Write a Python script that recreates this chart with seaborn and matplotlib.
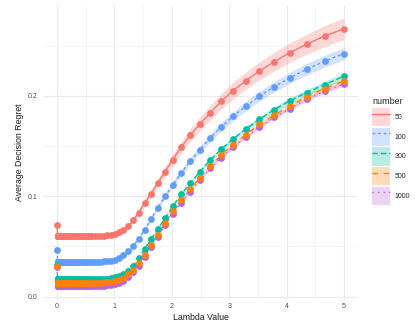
import matplotlib
matplotlib.use("Agg")
import matplotlib.pyplot as plt
import numpy as np
import pandas as pd
import seaborn as sns
from matplotlib.patches import Patch
from matplotlib.lines import Line2D
from matplotlib.legend_handler import HandlerTuple
from matplotlib.ticker import FixedLocator

# ---------------- data ----------------
lambda_values = [
    0.0, 0.0100, 0.0107, 0.0115, 0.0123, 0.0132, 0.0142, 0.0152, 0.0163, 0.0175,
    0.0188, 0.0201, 0.0216, 0.0231, 0.0248, 0.0266, 0.0285, 0.0306, 0.0328, 0.0351,
    0.0377, 0.0404, 0.0433, 0.0465, 0.0498, 0.0534, 0.0573, 0.0614, 0.0659, 0.0706,
    0.0757, 0.0812, 0.0871, 0.0934, 0.1002, 0.1074, 0.1152, 0.1235, 0.1324, 0.1420,
    0.1523, 0.1633, 0.1751, 0.1878, 0.2014, 0.2159, 0.2315, 0.2483, 0.2662, 0.2855,
    0.3061, 0.3283, 0.3520, 0.3775, 0.4048, 0.4341, 0.4655, 0.4991, 0.5352, 0.5739,
    0.6154, 0.6599, 0.7077,
    0.7588, 0.8137, 0.8726, 0.9357, 1.0033, 1.0759, 1.1537, 1.2372, 1.3267, 1.4226,
    1.5255, 1.6359, 1.7542, 1.8810, 2.0171, 2.1630, 2.3194, 2.4872, 2.6671, 2.8600,
    3.0668, 3.2886, 3.5265, 3.7815, 4.0550, 4.3483, 4.6628, 5.0000,
]

regret_50 = [
    0.0710,
    0.0604, 0.0604, 0.0604, 0.0604, 0.0604, 0.0604, 0.0604, 0.0604, 0.0604, 0.0604,
    0.0604, 0.0604, 0.0604, 0.0604, 0.0604, 0.0604, 0.0604, 0.0604, 0.0604, 0.0604,
    0.0604, 0.0604, 0.0604, 0.0604, 0.0604, 0.0604, 0.0604, 0.0604, 0.0604, 0.0604,
    0.0604, 0.0604, 0.0604, 0.0604, 0.0604, 0.0604, 0.0604, 0.0604, 0.0604, 0.0604,
    0.0604, 0.0604, 0.0604, 0.0604, 0.0604, 0.0604, 0.0604, 0.0604, 0.0604, 0.0604,
    0.0604, 0.0604, 0.0604, 0.0604, 0.0604, 0.0604, 0.0604, 0.0604, 0.0604, 0.0604,
    0.0604, 0.0604,
    0.0605, 0.0607, 0.0611, 0.0617, 0.0627, 0.0641, 0.0662, 0.0700, 0.0760, 0.0838,
    0.0932, 0.1025, 0.1130, 0.1245, 0.1365, 0.1488, 0.1608, 0.1718, 0.1830, 0.1945,
    0.2052, 0.2150, 0.2248, 0.2338, 0.2430, 0.2514, 0.2596, 0.2668,
]

regret_100 = [
    0.0461,
    0.0348, 0.0348, 0.0348, 0.0348, 0.0348, 0.0348, 0.0348, 0.0348, 0.0348, 0.0348,
    0.0348, 0.0348, 0.0348, 0.0348, 0.0348, 0.0348, 0.0348, 0.0348, 0.0348, 0.0348,
    0.0348, 0.0348, 0.0348, 0.0348, 0.0348, 0.0348, 0.0348, 0.0348, 0.0348, 0.0348,
    0.0348, 0.0348, 0.0348, 0.0348, 0.0348, 0.0348, 0.0348, 0.0348, 0.0348, 0.0348,
    0.0348, 0.0348, 0.0348, 0.0348, 0.0348, 0.0348, 0.0348, 0.0348, 0.0348, 0.0348,
    0.0348, 0.0348, 0.0348, 0.0348, 0.0348, 0.0348, 0.0348, 0.0348, 0.0348, 0.0348,
    0.0348, 0.0348,
    0.0349, 0.0351, 0.0354, 0.0360, 0.0370, 0.0388, 0.0416, 0.0455, 0.0506, 0.0577,
    0.0668, 0.0772, 0.0885, 0.0998, 0.1117, 0.1234, 0.1350, 0.1463, 0.1580, 0.1690,
    0.1797, 0.1897, 0.1997, 0.2090, 0.2179, 0.2265, 0.2345, 0.2421,
]

regret_300 = [
    0.0315,
    0.0175, 0.0175, 0.0175, 0.0175, 0.0175, 0.0175, 0.0175, 0.0175, 0.0175, 0.0175,
    0.0175, 0.0175, 0.0175, 0.0175, 0.0175, 0.0175, 0.0175, 0.0175, 0.0175, 0.0175,
    0.0175, 0.0175, 0.0175, 0.0175, 0.0175, 0.0175, 0.0175, 0.0175, 0.0175, 0.0175,
    0.0175, 0.0175, 0.0175, 0.0175, 0.0175, 0.0175, 0.0175, 0.0175, 0.0175, 0.0175,
    0.0175, 0.0175, 0.0175, 0.0175, 0.0175, 0.0175, 0.0175, 0.0175, 0.0175, 0.0175,
    0.0175, 0.0175, 0.0175, 0.0175, 0.0175, 0.0175, 0.0175, 0.0175, 0.0175, 0.0175,
    0.0175, 0.0175,
    0.0176, 0.0178, 0.0181, 0.0186, 0.0194, 0.0207, 0.0228, 0.0260, 0.0310, 0.0385,
    0.0475, 0.0570, 0.0672, 0.0782, 0.0902, 0.1018, 0.1130, 0.1244, 0.1360, 0.1468,
    0.1570, 0.1670, 0.1766, 0.1862, 0.1950, 0.2033, 0.2113, 0.2195,
]

regret_500 = [
    0.0310,
    0.0140, 0.0140, 0.0140, 0.0140, 0.0140, 0.0140, 0.0140, 0.0140, 0.0140, 0.0140,
    0.0140, 0.0140, 0.0140, 0.0140, 0.0140, 0.0140, 0.0140, 0.0140, 0.0140, 0.0140,
    0.0140, 0.0140, 0.0140, 0.0140, 0.0140, 0.0140, 0.0140, 0.0140, 0.0140, 0.0140,
    0.0140, 0.0140, 0.0140, 0.0140, 0.0140, 0.0140, 0.0140, 0.0140, 0.0140, 0.0140,
    0.0140, 0.0140, 0.0140, 0.0140, 0.0140, 0.0140, 0.0140, 0.0140, 0.0140, 0.0140,
    0.0140, 0.0140, 0.0140, 0.0140, 0.0140, 0.0140, 0.0140, 0.0140, 0.0140, 0.0140,
    0.0140, 0.0140,
    0.0141, 0.0142, 0.0145, 0.0150, 0.0158, 0.0170, 0.0190, 0.0222, 0.0270, 0.0335,
    0.0418, 0.0512, 0.0612, 0.0735, 0.0852, 0.0962, 0.1070, 0.1185, 0.1303, 0.1410,
    0.1515, 0.1615, 0.1715, 0.1808, 0.1897, 0.1990, 0.2073, 0.2145,
]

regret_1000 = [
    0.0300,
    0.0108, 0.0108, 0.0108, 0.0108, 0.0108, 0.0108, 0.0108, 0.0108, 0.0108, 0.0108,
    0.0108, 0.0108, 0.0108, 0.0108, 0.0108, 0.0108, 0.0108, 0.0108, 0.0108, 0.0108,
    0.0108, 0.0108, 0.0108, 0.0108, 0.0108, 0.0108, 0.0108, 0.0108, 0.0108, 0.0108,
    0.0108, 0.0108, 0.0108, 0.0108, 0.0108, 0.0108, 0.0108, 0.0108, 0.0108, 0.0108,
    0.0108, 0.0108, 0.0108, 0.0108, 0.0108, 0.0108, 0.0108, 0.0108, 0.0108, 0.0108,
    0.0108, 0.0108, 0.0108, 0.0108, 0.0108, 0.0108, 0.0108, 0.0108, 0.0108, 0.0108,
    0.0108, 0.0108,
    0.0109, 0.0110, 0.0113, 0.0118, 0.0126, 0.0139, 0.0160, 0.0193, 0.0243, 0.0310,
    0.0395, 0.0490, 0.0590, 0.0712, 0.0828, 0.0938, 0.1046, 0.1160, 0.1278, 0.1385,
    0.1490, 0.1590, 0.1690, 0.1785, 0.1873, 0.1965, 0.2048, 0.2118,
]

numbers = ["50", "100", "300", "500", "1000"]
series = [regret_50, regret_100, regret_300, regret_500, regret_1000]
# relative half-width of the shaded band, read per series
band_rel = [0.040, 0.025, 0.015, 0.013, 0.010]

# ---------------- styling ----------------
colors = ["#F8766D", "#619CFF", "#00BFA0", "#FF7F0E", "#B863E0"]
dash_patterns = ["", (2, 2), (4, 2), (4, 4), (1, 3)]
palette = dict(zip(numbers, colors))
dashes = dict(zip(numbers, dash_patterns))

for s in series:
    assert len(s) == len(lambda_values)

rows = []
for num, vals, rel in zip(numbers, series, band_rel):
    for lam, v in zip(lambda_values, vals):
        rows.append((num, lam, v * (1 - rel)))
        rows.append((num, lam, v * (1 + rel)))
band_df = pd.DataFrame(rows, columns=["number", "lambda", "regret"])
band_df["number"] = pd.Categorical(band_df["number"], categories=numbers)

mean_df = pd.DataFrame(
    [(num, lam, v) for num, vals in zip(numbers, series) for lam, v in zip(lambda_values, vals)],
    columns=["number", "lambda", "regret"],
)

sns.set_theme(style="white")
plt.rcParams["font.family"] = ["Liberation Sans", "DejaVu Sans"]

W, H = 415, 322
fig = plt.figure(figsize=(W / 100, H / 100), dpi=100)
px_l, px_r, px_t, px_b = 42.7, 358.3, 4.5, 299.7
ax = fig.add_axes([px_l / W, 1 - px_b / H, (px_r - px_l) / W, (px_b - px_t) / H])

sns.lineplot(
    data=band_df, x="lambda", y="regret", hue="number", style="number",
    hue_order=numbers, style_order=numbers, palette=palette, dashes=dashes,
    estimator="mean", errorbar=("pi", 100), err_kws={"alpha": 0.28, "linewidth": 0},
    linewidth=1.0, legend=False, ax=ax,
)

draw_order = ["50", "100", "300", "1000", "500"]
for num in draw_order:
    sub = mean_df[mean_df["number"] == num]
    sns.scatterplot(data=sub, x="lambda", y="regret", color=palette[num],
                    s=24, linewidth=0, legend=False, ax=ax, zorder=5)

ax.set_xlim(-0.25, 5.25)
ax.set_ylim(-0.003, 0.291)
ax.xaxis.set_major_locator(FixedLocator([0, 1, 2, 3, 4, 5]))
ax.xaxis.set_minor_locator(FixedLocator([0.5, 1.5, 2.5, 3.5, 4.5]))
ax.yaxis.set_major_locator(FixedLocator([0.0, 0.1, 0.2]))
ax.yaxis.set_minor_locator(FixedLocator([0.05, 0.15, 0.25]))
ax.set_xticklabels(["0", "1", "2", "3", "4", "5"])
ax.set_yticklabels(["0.0", "0.1", "0.2"])
ax.grid(True, which="major", color="#EBEBEB", linewidth=0.8)
ax.grid(True, which="minor", color="#F2F2F2", linewidth=0.5)
ax.set_axisbelow(True)
for sp in ax.spines.values():
    sp.set_visible(False)
ax.tick_params(axis="both", which="both", length=0, labelsize=5.0, labelcolor="#4D4D4D")
ax.tick_params(axis="x", pad=2.2)
ax.tick_params(axis="y", pad=3.4)
ax.set_facecolor("white")

ax.set_xlabel("Lambda Value", fontsize=6.3, color="#1A1A1A", labelpad=2.0)
ax.set_ylabel("Average Decision Regret", fontsize=6.3, color="#1A1A1A", labelpad=3.0)

handles = []
for num in numbers:
    patch = Patch(facecolor=palette[num], alpha=0.28, edgecolor="none")
    d = dashes[num]
    if d == "":
        ln = Line2D([], [], color=palette[num], linewidth=1.0, linestyle="-")
    else:
        ln = Line2D([], [], color=palette[num], linewidth=1.0, dashes=d)
    handles.append((patch, ln))

leg_fs = 5.0
fig.legend(
    handles, numbers, loc="upper left", bbox_to_anchor=(372 / W, 1 - 97.5 / H),
    frameon=False, title="number", fontsize=leg_fs, title_fontsize=6.5,
    handlelength=13.0 / leg_fs, handleheight=3.65, labelspacing=0.22,
    handletextpad=0.7, borderpad=0, borderaxespad=0, alignment="left",
    handler_map={tuple: HandlerTuple(ndivide=1, pad=0)},
)

fig.savefig("out.png", dpi=100, facecolor="white")
